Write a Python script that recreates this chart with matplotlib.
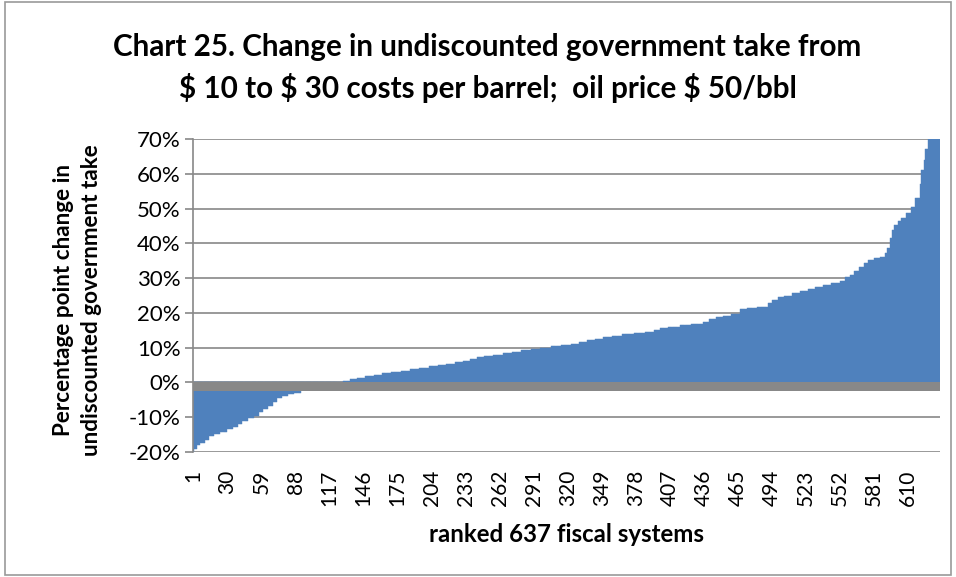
import matplotlib
matplotlib.use("Agg")
import matplotlib.pyplot as plt
from matplotlib.patches import Rectangle
import numpy as np

# ranked change in govt take (percentage points)
run_values = [-20.5, -19.0, -18.0, -17.5, -16.5, -15.5, -14.7, -14.2, -13.5, -12.8,
              -12.0, -11.0, -10.3, -9.5, -8.6, -7.6, -6.8, -5.6, -4.6, -4.0,
              -3.4, -2.9, -2.2, -1.5, -0.8, -0.2, 0.2,
              0.5, 0.9, 1.4, 1.8, 2.2, 2.6, 3.0, 3.4, 3.8, 4.2,
              4.6, 5.0, 5.4, 5.8, 6.2, 6.7, 7.2, 7.6, 8.0, 8.4,
              8.8, 9.2, 9.6, 10.0, 10.4, 10.8, 11.2, 11.7, 12.2, 12.6,
              13.0, 13.4, 13.8, 14.2, 14.5, 15.0, 15.6, 16.0, 16.4, 16.8,
              17.5, 18.2, 18.7, 19.2, 19.8, 21.0, 21.4, 21.8, 22.8, 23.8,
              24.6, 25.0, 25.6, 26.2, 26.8, 27.4, 28.0, 28.6, 29.3, 30.2,
              31.0, 32.0, 33.3, 34.4, 35.2, 35.8, 36.2, 37.2, 38.6, 41.5,
              43.9, 45.2, 46.3, 47.3, 48.7, 50.5, 53.0, 57.0, 61.2, 64.0,
              67.0, 72.0]
run_counts = [1, 2, 3, 4, 4, 4, 5, 6, 5, 4,
              4, 5, 5, 4, 4, 4, 4, 4, 4, 5,
              5, 6, 8, 8, 8, 6, 6,
              6, 6, 7, 7, 7, 8, 8, 8, 8, 8,
              8, 7, 7, 7, 6, 6, 6, 8, 8, 8,
              8, 8, 8, 9, 9, 8, 7, 7, 7, 7,
              7, 9, 10, 9, 8, 5, 7, 10, 10, 10,
              5, 6, 6, 7, 7, 6, 9, 9, 4, 5,
              5, 7, 7, 6, 6, 7, 7, 8, 4, 4,
              4, 4, 4, 4, 5, 5, 4, 2, 2, 2,
              2, 3, 3, 4, 4, 4, 4, 1, 2, 1,
              3, 10]

values = np.repeat(run_values, run_counts)
ranks = np.arange(1, len(values) + 1)
xticks = list(range(1, 638, 29))
yticks = list(range(-20, 80, 10))

plt.rcParams['font.family'] = ['Lato', 'DejaVu Sans']

fig = plt.figure(figsize=(9.56, 5.77), dpi=100)
ax = fig.add_axes([0.2019, 0.2166, 0.7814, 0.5424])

ax.bar(ranks, values, width=1.0, color='#4F81BD', edgecolor='#4F81BD',
       linewidth=0.3, zorder=2)
# thick category axis band at zero
ax.axhspan(-2.5, 0, color='#888888', zorder=3, lw=0)

ax.set_xlim(0.5, 637.5)
ax.set_ylim(-20, 70)
ax.set_yticks(yticks)
ax.set_yticklabels([f"{t}%" for t in yticks], fontsize=16)
ax.set_xticks(xticks)
ax.set_xticklabels([str(t) for t in xticks], rotation=90, fontsize=15)
ax.yaxis.grid(True, color='#888888', linewidth=1.2, zorder=0)
ax.set_axisbelow(True)
for s in ['top', 'right', 'bottom']:
    ax.spines[s].set_visible(False)
ax.spines['left'].set_color('#888888')
ax.spines['left'].set_linewidth(1.2)
ax.tick_params(axis='y', length=6, width=1.2, color='#888888', pad=3)
ax.tick_params(axis='x', length=0, pad=13)

fig.text(0.51, 0.918, "Chart 25. Change in undiscounted government take from",
         ha='center', va='center', fontsize=21.3, fontweight='bold')
fig.text(0.51, 0.847, "$ 10 to $ 30 costs per barrel;  oil price $ 50/bbl",
         ha='center', va='center', fontsize=21.3, fontweight='bold')
fig.text(0.593, 0.073, "ranked 637 fiscal systems", ha='center', va='center',
         fontsize=17.3, fontweight='bold')
fig.text(0.081, 0.48, "Percentage point change in\nundiscounted government take",
         ha='center', va='center', rotation=90, fontsize=16.2,
         fontweight='bold', linespacing=1.4)

fig.patches.append(Rectangle((0.005, 0.004), 0.99, 0.992, transform=fig.transFigure,
                             fill=False, edgecolor='#999999', linewidth=1.2))

fig.savefig("out.png", dpi=100)
